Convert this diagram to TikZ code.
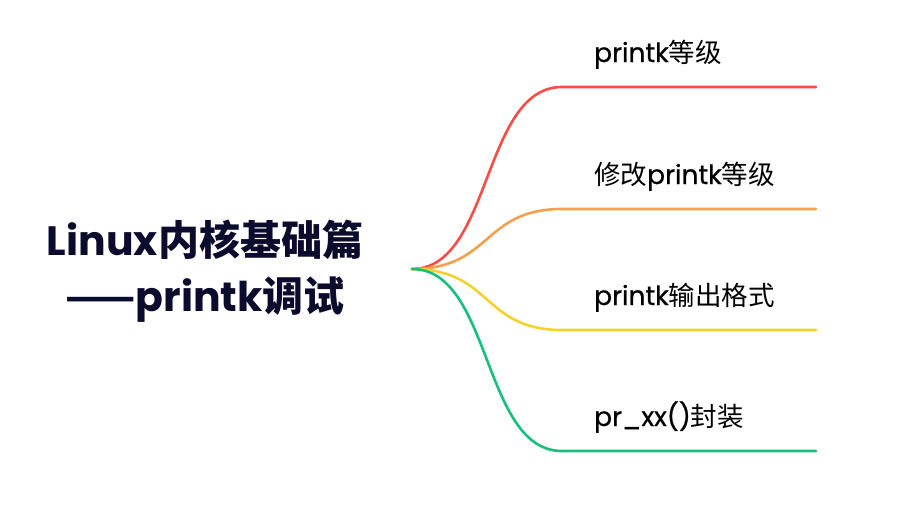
\documentclass[tikz,border=0pt]{standalone}
\usepackage{fontspec}
\setmainfont{Poppins}
\newfontfamily\leaffont[FakeBold=0.6]{Poppins}
\newfontfamily\cjk{Noto Sans CJK SC}
\newcommand{\zh}[1]{{\cjk #1}}
\definecolor{titleblue}{HTML}{0B0B2E}
\definecolor{brred}{HTML}{F84C46}
\definecolor{brorange}{HTML}{F5A04C}
\definecolor{bryellow}{HTML}{F2D22C}
\definecolor{brgreen}{HTML}{14C07C}
\tikzset{
  branch/.style={line width=2.6pt, line cap=round},
  leaf/.style={anchor=base west, inner sep=0pt, font=\fontsize{26.5}{30}\selectfont\leaffont, text=black},
}
\begin{document}
\begin{tikzpicture}[x=1pt, y=-1pt]
\useasboundingbox (0,0) rectangle (898,514);
\node[align=center, text=titleblue, font=\fontsize{41}{56}\selectfont\bfseries] (title) at (205,271)
  {Linux\zh{内核基础篇}\\\zh{——}printk\zh{调试}};
\coordinate (root) at (412,269);
% branch ends
\coordinate (b1s) at (562,87);
\coordinate (b1e) at (816,87);
\coordinate (b2s) at (562,209);
\coordinate (b2e) at (816,209);
\coordinate (b3s) at (562,330);
\coordinate (b3e) at (816,330);
\coordinate (b4s) at (562,451);
\coordinate (b4e) at (816,451);
\draw[branch, brred] (root) .. controls (492,269) and (482,87) .. (b1s) -- (b1e);
\draw[branch, brorange] (root) .. controls (492,269) and (482,209) .. (b2s) -- (b2e);
\draw[branch, bryellow] (root) .. controls (492,269) and (482,330) .. (b3s) -- (b3e);
\draw[branch, brgreen] (root) .. controls (492,269) and (482,451) .. (b4s) -- (b4e);
% labels
\node[leaf] (l1) at (594,62) {printk\zh{等级}};
\node[leaf] (l2) at (594,184) {\zh{修改}printk\zh{等级}};
\node[leaf] (l3) at (594,305) {printk\zh{输出格式}};
\node[leaf] (l4) at (594,426) {pr\_xx()\zh{封装}};
\end{tikzpicture}
\end{document}
